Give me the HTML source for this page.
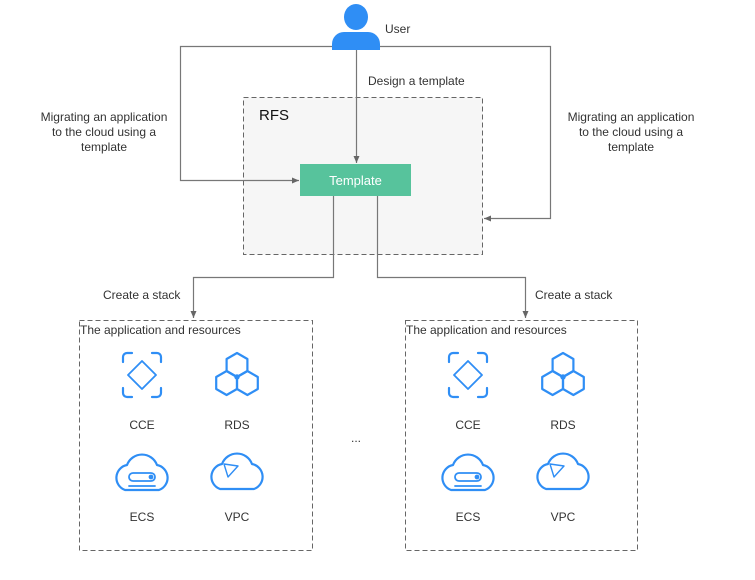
<!DOCTYPE html>
<html><head><meta charset="utf-8"><style>
html,body{margin:0;padding:0;background:#fff;}
svg{display:block;font-family:"Liberation Sans",Arial,sans-serif;}
</style></head><body>
<svg width="755" height="580" viewBox="0 0 755 580" xmlns="http://www.w3.org/2000/svg">
<defs>
<marker id="ar" markerWidth="8" markerHeight="8" refX="7" refY="4" orient="auto" markerUnits="userSpaceOnUse">
<path d="M0,1 L7,4 L0,7 Z" fill="#666"/></marker>
<g id="icons" fill="none" stroke="#2f8ef5" stroke-width="2.2" stroke-linejoin="round" stroke-linecap="round">
  <!-- CCE -->
  <path d="M123,362 v-5 a4,4 0 0 1 4,-4 h5 M152,353 h5 a4,4 0 0 1 4,4 v5 M161,388 v5 a4,4 0 0 1 -4,4 h-5 M132,397 h-5 a4,4 0 0 1 -4,-4 v-5"/>
  <path d="M142,361 L156,375 L142,389 L128,375 Z" stroke-width="1.8"/>
  <!-- RDS -->
  <path d="M237,353 L247.4,359 L247.4,371 L237,377 L226.6,371 L226.6,359 Z"/>
  <path d="M226.6,371 L237,377 L237,389 L226.6,395 L216.2,389 L216.2,377 Z"/>
  <path d="M247.4,371 L257.8,377 L257.8,389 L247.4,395 L237,389 L237,377 Z"/>
  <circle cx="237" cy="377" r="1.6" fill="#2f8ef5"/>
  <!-- ECS -->
  <path d="M125,490 a13,13 0 0 1 2,-25 a16,16 0 0 1 30,0 a13,13 0 0 1 2,25 Z"/>
  <rect x="129" y="473" width="26" height="8" rx="4" stroke-width="1.8"/>
  <circle cx="151" cy="477" r="1.3" fill="#2f8ef5"/>
  <line x1="129" y1="486" x2="155" y2="486" stroke-width="1.8"/>
  <!-- VPC -->
  <path d="M220,489 a13,13 0 0 1 2,-25 a16,16 0 0 1 30,0 a13,13 0 0 1 2,25 Z"/>
  <path d="M224,464 L238,466 L228,477 Z" stroke-width="1.4"/>
</g>
</defs>

<!-- user icon -->
<g fill="#2f8ef5">
<ellipse cx="356" cy="17" rx="12" ry="13"/>
<path d="M332,50 v-6 a12,12 0 0 1 12,-12 h24 a12,12 0 0 1 12,12 v6 Z"/>
</g>
<text x="385" y="33" font-size="12" fill="#333">User</text>

<!-- RFS box -->
<rect x="243.5" y="97.5" width="239" height="157" fill="#f6f6f6" stroke="#666" stroke-dasharray="5,3"/>
<text x="259" y="120" font-size="15" fill="#111">RFS</text>

<!-- connectors -->
<g stroke="#777" stroke-width="1.2" fill="none">
<path d="M332,46.5 H180.5 V180.5 H299" marker-end="url(#ar)"/>
<path d="M380,46.5 H550.5 V218.5 H484" marker-end="url(#ar)"/>
<path d="M356.5,50 V163" marker-end="url(#ar)"/>
<path d="M333.5,196 V277.5 H193.5 V318" marker-end="url(#ar)"/>
<path d="M377.5,196 V277.5 H525.5 V318" marker-end="url(#ar)"/>
</g>

<rect x="300" y="164" width="111" height="32" fill="#57c39c"/>
<text x="355.5" y="185" font-size="13" fill="#fff" text-anchor="middle">Template</text>

<text x="368" y="85" font-size="12" fill="#333">Design a template</text>
<g font-size="12" fill="#333" text-anchor="middle">
<text x="104" y="121">Migrating an application</text>
<text x="104" y="136">to the cloud using a</text>
<text x="104" y="151">template</text>
<text x="631" y="121">Migrating an application</text>
<text x="631" y="136">to the cloud using a</text>
<text x="631" y="151">template</text>
</g>
<text x="103" y="299" font-size="12" fill="#333">Create a stack</text>
<text x="535" y="299" font-size="12" fill="#333">Create a stack</text>

<!-- resource boxes -->
<rect x="79.5" y="320.5" width="233" height="230" fill="none" stroke="#666" stroke-dasharray="5,3"/>
<rect x="405.5" y="320.5" width="232" height="230" fill="none" stroke="#666" stroke-dasharray="5,3"/>
<text x="80" y="334" font-size="12" fill="#333">The application and resources</text>
<text x="406" y="334" font-size="12" fill="#333">The application and resources</text>

<use href="#icons"/>
<use href="#icons" transform="translate(326,0)"/>

<g font-size="12" fill="#333" text-anchor="middle">
<text x="142" y="429">CCE</text><text x="237" y="429">RDS</text>
<text x="142" y="521">ECS</text><text x="237" y="521">VPC</text>
<text x="468" y="429">CCE</text><text x="563" y="429">RDS</text>
<text x="468" y="521">ECS</text><text x="563" y="521">VPC</text>
<text x="356" y="442">...</text>
</g>
</svg>
</body></html>
